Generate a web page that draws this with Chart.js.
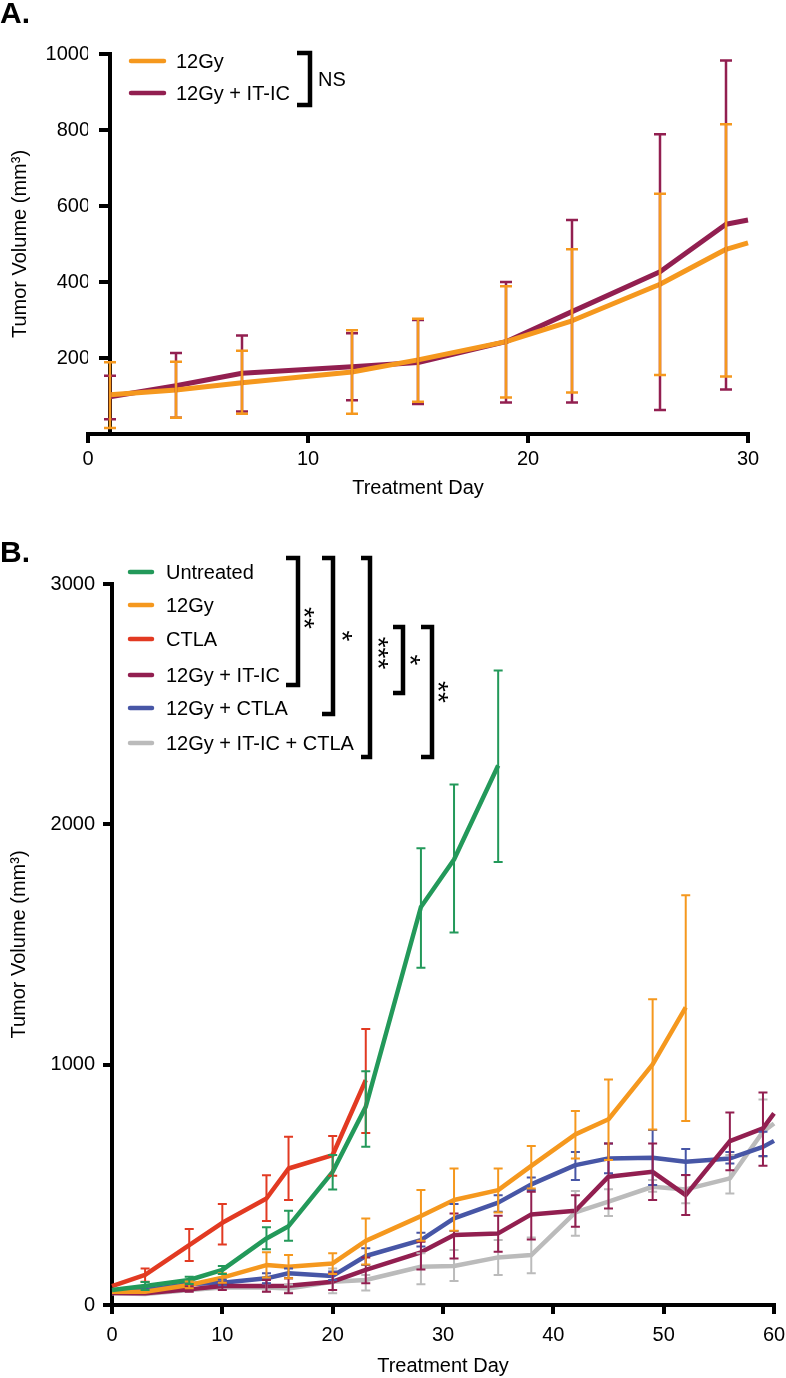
<!DOCTYPE html>
<html lang="en">
<head>
<meta charset="UTF-8" />
<title>Tumor Volume</title>
<script src="https://cdn.jsdelivr.net/npm/chart.js"></script>
<style>
  * { margin: 0; padding: 0; box-sizing: border-box; }
  body { background: #fff; width: 786px; height: 1378px; position: relative; overflow: hidden; }
  canvas { position: absolute; left: 0; }
  #chartA { top: 0; }
  #chartB { top: 500px; }
</style>
</head>
<body>
<canvas id="chartA" width="786" height="505"></canvas>
<canvas id="chartB" width="786" height="878"></canvas>
<script>
  // ---- panel A data ----
  const daysA = [1, 4, 7, 12, 15, 19, 22, 26, 29, 30];
  const a12Gy   = [103, 116, 135, 163, 195, 243, 298, 394, 486, 503];
  const a12GyHi = [189, 190, 219, 273, 303, 389, 486, 632, 815, null];
  const a12GyLo = [16, 43, 53, 53, 85, 96, 109, 155, 151, null];
  const aItic   = [98, 127, 160, 177, 188, 243, 322, 427, 552, 563];
  const aIticHi = [153, 213, 259, 265, 300, 400, 563, 789, 983, null];
  const aIticLo = [39, 43, 59, 89, 79, 83, 83, 63, 117, null];

  // ---- panel B data ----
  const daysB = [0, 3, 7, 10, 14, 16, 20, 23, 28, 31, 35, 38, 42, 45, 49, 52, 56, 59, 60];
  const bUntr   = [62, 79, 104, 146, 277, 328, 554, 825, 1656, 1854, 2245, null, null, null, null, null, null, null, null];
  const bUntrHi = [null, 96, 118, 162, 323, 392, 624, 973, 1901, 2166, 2640, null, null, null, null, null, null, null, null];
  const bUntrLo = [null, 62, 87, 129, 232, 267, 481, 658, 1403, 1550, 1843, null, null, null, null, null, null, null, null];
  const b12Gy   = [55, 55, 83, 114, 166, 159, 173, 267, 370, 437, 478, 579, 710, 773, 1001, 1238, null, null, null];
  const b12GyHi = [null, null, 98, 132, 219, 208, 215, 360, 478, 568, 568, 662, 807, 938, 1272, 1705, null, null, null];
  const b12GyLo = [null, null, 70, 93, 114, 111, 129, 169, 267, 309, 385, 485, 610, 603, 730, 766, null, null, null];
  const bCtla   = [79, 125, 249, 342, 443, 568, 624, 936, null, null, null, null, null, null, null, null, null, null, null];
  const bCtlaHi = [null, 152, 316, 420, 540, 700, 703, 1148, null, null, null, null, null, null, null, null, null, null, null];
  const bCtlaLo = [null, 97, 183, 252, 349, 437, 538, 716, null, null, null, null, null, null, null, null, null, null, null];
  const bItic   = [50, 49, 65, 79, 79, 80, 97, 146, 219, 291, 298, 377, 392, 534, 554, 457, 682, 735, 797];
  const bIticHi = [null, null, 78, 93, 104, 111, 132, 198, 263, 381, 371, 471, 457, 672, 672, 541, 801, 884, null];
  const bIticLo = [null, null, 55, 62, 55, 49, 62, 90, 148, 194, 222, 273, 326, 402, 437, 374, 561, 579, null];
  const bGyCtla   = [55, 62, 87, 93, 111, 132, 121, 204, 270, 360, 426, 502, 582, 610, 613, 596, 610, 658, 683];
  const bGyCtlaHi = [null, null, null, 105, 132, 152, 139, 236, 301, 420, 457, 530, 637, 672, 728, 649, 637, 721, null];
  const bGyCtlaLo = [null, null, null, 82, 90, 111, 104, 166, 243, 308, 388, 478, 520, 548, 499, 541, 589, 620, null];
  const bTriple   = [49, 46, 62, 73, 73, 69, 97, 104, 159, 162, 198, 208, 385, 430, 492, 481, 527, 721, 755];
  const bTripleHi = [null, null, null, null, 90, 85, 152, 125, 215, 229, 270, 281, 474, 482, 520, 540, 624, 855, null];
  const bTripleLo = [null, null, null, null, 56, 52, 49, 60, 86, 100, 125, 132, 288, 370, 471, 423, 464, 617, null];

  const ticksA = [0, 10, 20, 30];
  const ticksB = [0, 10, 20, 30, 40, 50, 60];

  const ORANGE = '#F5981E', PURPLE = '#921F50', GREEN = '#23995A',
        RED = '#E23A22', BLUE = '#4756A6', GRAY = '#BBBBBB';

  Chart.defaults.font.family = "'Liberation Sans', Arial, Helvetica, sans-serif";
  Chart.defaults.font.size = 20;
  Chart.defaults.color = '#000';

  function points(days, vals, hi, lo) {
    const out = [];
    days.forEach((d, i) => {
      if (vals[i] === null) return;
      out.push({ x: d, y: vals[i], hi: hi[i], lo: lo[i] });
    });
    return out;
  }

  function series(label, color, width, cap, errW, days, vals, hi, lo) {
    return {
      label: label,
      data: points(days, vals, hi, lo),
      borderColor: color,
      backgroundColor: color,
      borderWidth: width,
      pointRadius: 0,
      pointHoverRadius: 0,
      tension: 0,
      fill: false,
      borderJoinStyle: 'round',
      clip: false,
      capHalf: cap,
      errWidth: errW
    };
  }

  const tickMarks = () => ({ display: true, drawOnChartArea: false, drawTicks: true,
    tickLength: 9, tickWidth: 4, lineWidth: 4, tickColor: '#000', color: '#000' });
  const axisLine = () => ({ display: true, width: 4, color: '#000' });

  const errorBars = {
    id: 'errorBars',
    afterDatasetsDraw(chart) {
      const ctx = chart.ctx;
      const xs = chart.scales.x, ys = chart.scales.y;
      for (let i = chart.data.datasets.length - 1; i >= 0; i--) {
        const ds = chart.data.datasets[i];
        ctx.save();
        ctx.strokeStyle = ds.borderColor;
        ctx.lineWidth = ds.errWidth;
        ctx.lineCap = 'butt';
        ds.data.forEach(p => {
          if (p.hi == null) return;
          const px = xs.getPixelForValue(p.x);
          const top = ys.getPixelForValue(p.hi);
          const bot = ys.getPixelForValue(p.lo);
          const c = ds.capHalf;
          ctx.beginPath();
          ctx.moveTo(px, top); ctx.lineTo(px, bot);
          ctx.moveTo(px - c, top); ctx.lineTo(px + c, top);
          ctx.moveTo(px - c, bot); ctx.lineTo(px + c, bot);
          ctx.stroke();
        });
        ctx.restore();
      }
    }
  };

  function bracket(ctx, x, y1, y2, armX) {
    ctx.beginPath();
    ctx.moveTo(armX, y1);
    ctx.lineTo(x, y1);
    ctx.lineTo(x, y2);
    ctx.lineTo(armX, y2);
    ctx.stroke();
  }

  function stars(ctx, text, x, y) {
    ctx.save();
    ctx.translate(x - 7, y);
    ctx.rotate(Math.PI / 2);
    ctx.font = "28px 'Liberation Sans', Arial, sans-serif";
    ctx.textAlign = 'center';
    ctx.textBaseline = 'middle';
    ctx.fillText(text, 0, 0);
    ctx.restore();
  }

  function drawLegend(chart, x1, x2, tx, rows, lw) {
    const ctx = chart.ctx;
    ctx.save();
    ctx.font = "20px 'Liberation Sans', Arial, sans-serif";
    ctx.textBaseline = 'middle';
    ctx.textAlign = 'left';
    chart.data.datasets.forEach((ds, i) => {
      ctx.strokeStyle = ds.borderColor;
      ctx.lineWidth = lw;
      ctx.lineCap = 'round';
      ctx.beginPath();
      ctx.moveTo(x1, rows[i]);
      ctx.lineTo(x2, rows[i]);
      ctx.stroke();
      ctx.fillStyle = '#000';
      ctx.fillText(ds.label, tx, rows[i] + 1);
    });
    ctx.restore();
  }

  const annotA = {
    id: 'annotA',
    afterDraw(chart) {
      const ctx = chart.ctx;
      ctx.save();
      ctx.fillStyle = '#000';
      ctx.font = "bold 30px 'Liberation Sans', Arial, sans-serif";
      ctx.textBaseline = 'alphabetic';
      ctx.fillText('A.', 0, 23);
      ctx.restore();
      drawLegend(chart, 131, 164, 176, [61, 93], 4.5);
      ctx.save();
      ctx.strokeStyle = '#000';
      ctx.lineWidth = 4.5;
      ctx.lineJoin = 'miter';
      bracket(ctx, 310, 53, 105, 297);
      ctx.fillStyle = '#000';
      ctx.font = "20px 'Liberation Sans', Arial, sans-serif";
      ctx.textBaseline = 'middle';
      ctx.fillText('NS', 318, 80);
      ctx.restore();
    }
  };

  const annotB = {
    id: 'annotB',
    afterDraw(chart) {
      const ctx = chart.ctx;
      ctx.save();
      ctx.fillStyle = '#000';
      ctx.font = "bold 30px 'Liberation Sans', Arial, sans-serif";
      ctx.textBaseline = 'alphabetic';
      ctx.fillText('B.', 0, 62);
      ctx.restore();
      drawLegend(chart, 130, 152, 166, [72, 105, 139, 175, 208, 243], 4.5);
      ctx.save();
      ctx.strokeStyle = '#000';
      ctx.fillStyle = '#000';
      ctx.lineWidth = 4.5;
      ctx.lineJoin = 'miter';
      bracket(ctx, 298, 58, 185, 286);
      bracket(ctx, 333, 58, 214, 322);
      bracket(ctx, 370, 58, 257, 361);
      bracket(ctx, 403, 127, 193, 393);
      bracket(ctx, 432, 127, 257, 421);
      stars(ctx, '**', 310, 118);
      stars(ctx, '*', 348, 136);
      stars(ctx, '***', 384, 153);
      stars(ctx, '*', 416, 160);
      stars(ctx, '**', 444, 192);
      ctx.restore();
    }
  };

  new Chart(document.getElementById('chartA'), {
    type: 'line',
    data: {
      datasets: [
        series('12Gy', ORANGE, 5, 6, 2.5, daysA, a12Gy, a12GyHi, a12GyLo),
        series('12Gy + IT-IC', PURPLE, 5, 6, 2.5, daysA, aItic, aIticHi, aIticLo)
      ]
    },
    options: {
      responsive: false,
      animation: false,
      devicePixelRatio: 1,
      layout: { padding: { left: 0, top: 54, right: 38, bottom: 0 } },
      plugins: { legend: { display: false }, tooltip: { enabled: false } },
      scales: {
        x: {
          type: 'linear', position: 'bottom', min: 0, max: 30,
          afterBuildTicks(s) { s.ticks = ticksA.map(v => ({ value: v })); },
          ticks: { padding: 4, callback: v => String(v) },
          grid: tickMarks(), border: axisLine(),
          title: { display: true, text: 'Treatment Day', padding: { top: 0, bottom: 5 } },
          afterFit(s) { s.height = 71; s.paddingLeft = 0; s.paddingRight = 0; }
        },
        y: {
          type: 'linear', position: { x: 1 }, min: 0, max: 1000,
          ticks: { display: false, stepSize: 200 },
          grid: tickMarks(), border: axisLine(),
          afterFit(s) { s.paddingTop = 0; s.paddingBottom = 0; }
        },
        yl: {
          type: 'linear', position: 'left', min: 0, max: 1000,
          ticks: { stepSize: 200, padding: -2, callback: v => v === 0 ? '' : String(v) },
          grid: { display: false, drawTicks: false }, border: { display: false },
          title: { display: true, text: 'Tumor Volume (mm³)', padding: { top: 8, bottom: 0 } },
          afterFit(s) { s.width = 88; s.paddingTop = 0; s.paddingBottom = 0; }
        }
      }
    },
    plugins: [errorBars, annotA]
  });

  new Chart(document.getElementById('chartB'), {
    type: 'line',
    data: {
      datasets: [
        series('Untreated', GREEN, 4.5, 4.5, 2, daysB, bUntr, bUntrHi, bUntrLo),
        series('12Gy', ORANGE, 4.5, 4.5, 2, daysB, b12Gy, b12GyHi, b12GyLo),
        series('CTLA', RED, 4.5, 4.5, 2, daysB, bCtla, bCtlaHi, bCtlaLo),
        series('12Gy + IT-IC', PURPLE, 4.5, 4.5, 2, daysB, bItic, bIticHi, bIticLo),
        series('12Gy + CTLA', BLUE, 4.5, 4.5, 2, daysB, bGyCtla, bGyCtlaHi, bGyCtlaLo),
        series('12Gy + IT-IC + CTLA', GRAY, 4.5, 4.5, 2, daysB, bTriple, bTripleHi, bTripleLo)
      ]
    },
    options: {
      responsive: false,
      animation: false,
      devicePixelRatio: 1,
      layout: { padding: { left: 0, top: 84, right: 12, bottom: 0 } },
      plugins: { legend: { display: false }, tooltip: { enabled: false } },
      scales: {
        x: {
          type: 'linear', position: 'bottom', min: 0, max: 60,
          afterBuildTicks(s) { s.ticks = ticksB.map(v => ({ value: v })); },
          ticks: { padding: 9, callback: v => String(v) },
          grid: tickMarks(), border: axisLine(),
          title: { display: true, text: 'Treatment Day', padding: { top: 0, bottom: 0 } },
          afterFit(s) { s.height = 73; s.paddingLeft = 0; s.paddingRight = 0; }
        },
        y: {
          type: 'linear', position: 'left', min: 0, max: 3000,
          ticks: { stepSize: 1000, padding: 8, callback: v => String(v) },
          grid: tickMarks(), border: axisLine(),
          title: { display: true, text: 'Tumor Volume (mm³)', padding: { top: 7, bottom: 0 } },
          afterFit(s) { s.width = 112; s.paddingTop = 0; s.paddingBottom = 0; }
        }
      }
    },
    plugins: [errorBars, annotB]
  });
</script>
</body>
</html>
